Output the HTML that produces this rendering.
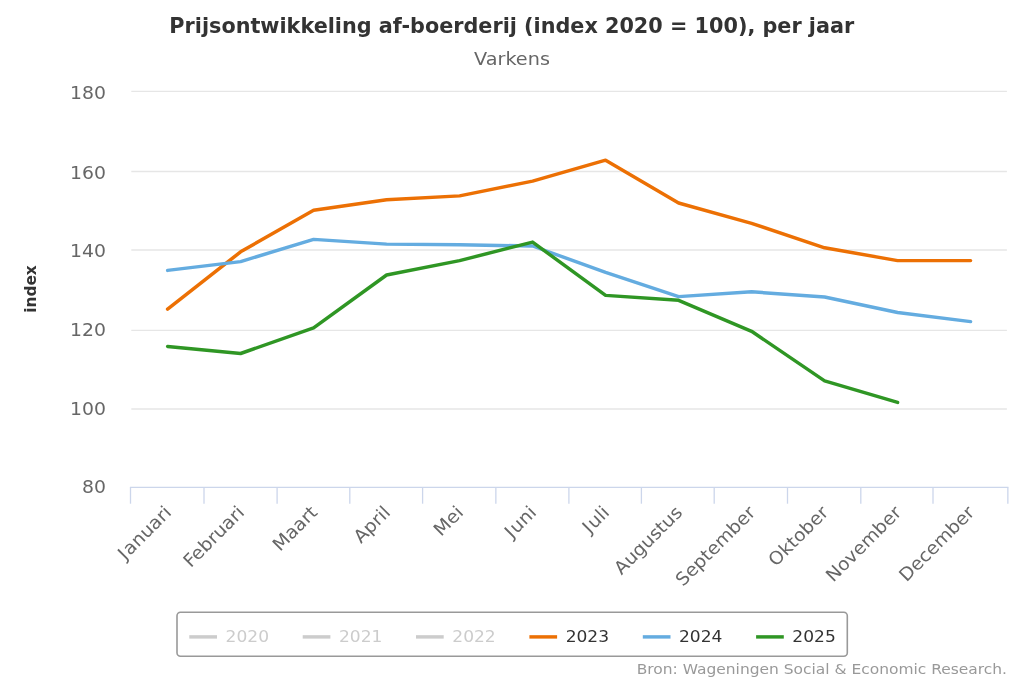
<!DOCTYPE html>
<html lang="nl"><head><meta charset="utf-8"><title>Prijsontwikkeling af-boerderij</title>
<style>
html,body{margin:0;padding:0;background:#fff;}
body{width:1024px;height:683px;overflow:hidden;}
svg{display:block;filter:blur(0.35px);font-family:"DejaVu Sans","Liberation Sans",sans-serif;}
</style></head><body>
<svg width="1024" height="683" viewBox="0 0 1024 683">
<rect width="1024" height="683" fill="#fff"/>
<text x="511.8" y="32.7" text-anchor="middle" font-size="20.75" font-weight="bold" fill="#333">Prijsontwikkeling af-boerderij (index 2020 = 100), per jaar</text>
<text x="512" y="64.7" text-anchor="middle" font-size="18.4" fill="#666" textLength="75.83" lengthAdjust="spacingAndGlyphs">Varkens</text>
<path d="M131.3 91.4 L1006.9 91.4" stroke="#e6e6e6" stroke-width="1.4" fill="none"/>
<path d="M131.3 171.55 L1006.9 171.55" stroke="#e6e6e6" stroke-width="1.4" fill="none"/>
<path d="M131.3 250.05 L1006.9 250.05" stroke="#e6e6e6" stroke-width="1.4" fill="none"/>
<path d="M131.3 330.4 L1006.9 330.4" stroke="#e6e6e6" stroke-width="1.4" fill="none"/>
<path d="M131.3 408.95 L1006.9 408.95" stroke="#e6e6e6" stroke-width="1.4" fill="none"/>
<text x="105.95" y="98.7" text-anchor="end" font-size="18" fill="#666" textLength="35.90" lengthAdjust="spacingAndGlyphs">180</text>
<text x="105.95" y="178.7" text-anchor="end" font-size="18" fill="#666" textLength="35.90" lengthAdjust="spacingAndGlyphs">160</text>
<text x="105.95" y="257.15" text-anchor="end" font-size="18" fill="#666" textLength="35.90" lengthAdjust="spacingAndGlyphs">140</text>
<text x="105.95" y="336.15" text-anchor="end" font-size="18" fill="#666" textLength="35.90" lengthAdjust="spacingAndGlyphs">120</text>
<text x="105.95" y="414.8" text-anchor="end" font-size="18" fill="#666" textLength="35.90" lengthAdjust="spacingAndGlyphs">100</text>
<text x="105.95" y="492.65" text-anchor="end" font-size="18" fill="#666" textLength="23.94" lengthAdjust="spacingAndGlyphs">80</text>
<text x="0" y="0" transform="translate(36,289) rotate(-90)" text-anchor="middle" font-size="15.3" font-weight="bold" fill="#333">index</text>
<path d="M129.9 487.4 L1008.47 487.4" stroke="#ccd6eb" stroke-width="1.3" fill="none"/>
<path d="M130.50 487.4 L130.50 503.7" stroke="#ccd6eb" stroke-width="1.3" fill="none"/>
<path d="M204.00 487.4 L204.00 503.7" stroke="#ccd6eb" stroke-width="1.3" fill="none"/>
<path d="M277.10 487.4 L277.10 503.7" stroke="#ccd6eb" stroke-width="1.3" fill="none"/>
<path d="M349.80 487.4 L349.80 503.7" stroke="#ccd6eb" stroke-width="1.3" fill="none"/>
<path d="M422.60 487.4 L422.60 503.7" stroke="#ccd6eb" stroke-width="1.3" fill="none"/>
<path d="M495.85 487.4 L495.85 503.7" stroke="#ccd6eb" stroke-width="1.3" fill="none"/>
<path d="M568.90 487.4 L568.90 503.7" stroke="#ccd6eb" stroke-width="1.3" fill="none"/>
<path d="M641.40 487.4 L641.40 503.7" stroke="#ccd6eb" stroke-width="1.3" fill="none"/>
<path d="M714.20 487.4 L714.20 503.7" stroke="#ccd6eb" stroke-width="1.3" fill="none"/>
<path d="M787.50 487.4 L787.50 503.7" stroke="#ccd6eb" stroke-width="1.3" fill="none"/>
<path d="M860.80 487.4 L860.80 503.7" stroke="#ccd6eb" stroke-width="1.3" fill="none"/>
<path d="M933.00 487.4 L933.00 503.7" stroke="#ccd6eb" stroke-width="1.3" fill="none"/>
<path d="M1007.85 487.4 L1007.85 503.7" stroke="#ccd6eb" stroke-width="1.3" fill="none"/>
<text x="0" y="0" dx="0 1.4" transform="translate(172.4,513.6) rotate(-45) scale(1.045,1)" text-anchor="end" font-size="18" fill="#666">Januari</text>
<text x="0" y="0" transform="translate(245.4,513.6) rotate(-45) scale(1.045,1)" text-anchor="end" font-size="18" fill="#666">Februari</text>
<text x="0" y="0" transform="translate(318.4,513.6) rotate(-45) scale(1.045,1)" text-anchor="end" font-size="18" fill="#666">Maart</text>
<text x="0" y="0" transform="translate(391.4,513.6) rotate(-45) scale(1.045,1)" text-anchor="end" font-size="18" fill="#666">April</text>
<text x="0" y="0" transform="translate(464.4,513.6) rotate(-45) scale(1.045,1)" text-anchor="end" font-size="18" fill="#666">Mei</text>
<text x="0" y="0" dx="0 1.4" transform="translate(537.4,513.6) rotate(-45) scale(1.045,1)" text-anchor="end" font-size="18" fill="#666">Juni</text>
<text x="0" y="0" dx="0 1.4" transform="translate(610.4,513.6) rotate(-45) scale(1.045,1)" text-anchor="end" font-size="18" fill="#666">Juli</text>
<text x="0" y="0" transform="translate(683.4,513.6) rotate(-45) scale(1.045,1)" text-anchor="end" font-size="18" fill="#666">Augustus</text>
<text x="0" y="0" transform="translate(756.4,513.6) rotate(-45) scale(1.045,1)" text-anchor="end" font-size="18" fill="#666">September</text>
<text x="0" y="0" transform="translate(829.4,513.6) rotate(-45) scale(1.045,1)" text-anchor="end" font-size="18" fill="#666">Oktober</text>
<text x="0" y="0" transform="translate(902.4,513.6) rotate(-45) scale(1.045,1)" text-anchor="end" font-size="18" fill="#666">November</text>
<text x="0" y="0" transform="translate(975.4,513.6) rotate(-45) scale(1.045,1)" text-anchor="end" font-size="18" fill="#666">December</text>
<path d="M167.6 309.2 L240.6 251.8 L313.6 210.3 L386.6 199.8 L459.6 195.9 L532.6 181.1 L605.6 160.2 L678.6 203.0 L751.6 223.3 L824.6 247.8 L897.6 260.6 L970.6 260.6" stroke="#ec7004" stroke-width="3.45" fill="none" stroke-linejoin="round" stroke-linecap="round"/>
<path d="M167.6 270.4 L240.6 261.6 L313.6 239.4 L386.6 244.1 L459.6 244.8 L532.6 246.0 L605.6 272.4 L678.6 296.6 L751.6 291.8 L824.6 297.0 L897.6 312.5 L970.6 321.6" stroke="#64ace0" stroke-width="3.45" fill="none" stroke-linejoin="round" stroke-linecap="round"/>
<path d="M167.6 346.5 L240.6 353.5 L313.6 327.9 L386.6 275.0 L459.6 260.6 L532.6 242.1 L605.6 295.4 L678.6 300.3 L751.6 331.3 L824.6 380.9 L897.6 402.4" stroke="#2f9624" stroke-width="3.45" fill="none" stroke-linejoin="round" stroke-linecap="round"/>
<rect x="177" y="612.2" width="670.3" height="44" rx="3.5" ry="3.5" fill="#fff" stroke="#999" stroke-width="1.6"/>
<path d="M189.3 636.9 L217.0 636.9" stroke="#ccc" stroke-width="3.45" fill="none"/>
<text x="225.6" y="642.3" font-size="16.4" fill="#ccc" textLength="43.41" lengthAdjust="spacingAndGlyphs">2020</text>
<path d="M302.7 636.9 L330.4 636.9" stroke="#ccc" stroke-width="3.45" fill="none"/>
<text x="338.95" y="642.3" font-size="16.4" fill="#ccc" textLength="43.41" lengthAdjust="spacingAndGlyphs">2021</text>
<path d="M416.0 636.9 L443.7 636.9" stroke="#ccc" stroke-width="3.45" fill="none"/>
<text x="452.3" y="642.3" font-size="16.4" fill="#ccc" textLength="43.41" lengthAdjust="spacingAndGlyphs">2022</text>
<path d="M529.4 636.9 L557.1 636.9" stroke="#ec7004" stroke-width="3.45" fill="none"/>
<text x="565.65" y="642.3" font-size="16.4" fill="#333" textLength="43.41" lengthAdjust="spacingAndGlyphs">2023</text>
<path d="M642.8 636.9 L670.5 636.9" stroke="#64ace0" stroke-width="3.45" fill="none"/>
<text x="679.0" y="642.3" font-size="16.4" fill="#333" textLength="43.41" lengthAdjust="spacingAndGlyphs">2024</text>
<path d="M756.1 636.9 L783.8 636.9" stroke="#2f9624" stroke-width="3.45" fill="none"/>
<text x="792.35" y="642.3" font-size="16.4" fill="#333" textLength="43.41" lengthAdjust="spacingAndGlyphs">2025</text>
<text x="1007" y="674.4" text-anchor="end" font-size="14.95" fill="#999" textLength="370.29" lengthAdjust="spacingAndGlyphs">Bron: Wageningen Social &amp; Economic Research.</text>
</svg></body></html>
